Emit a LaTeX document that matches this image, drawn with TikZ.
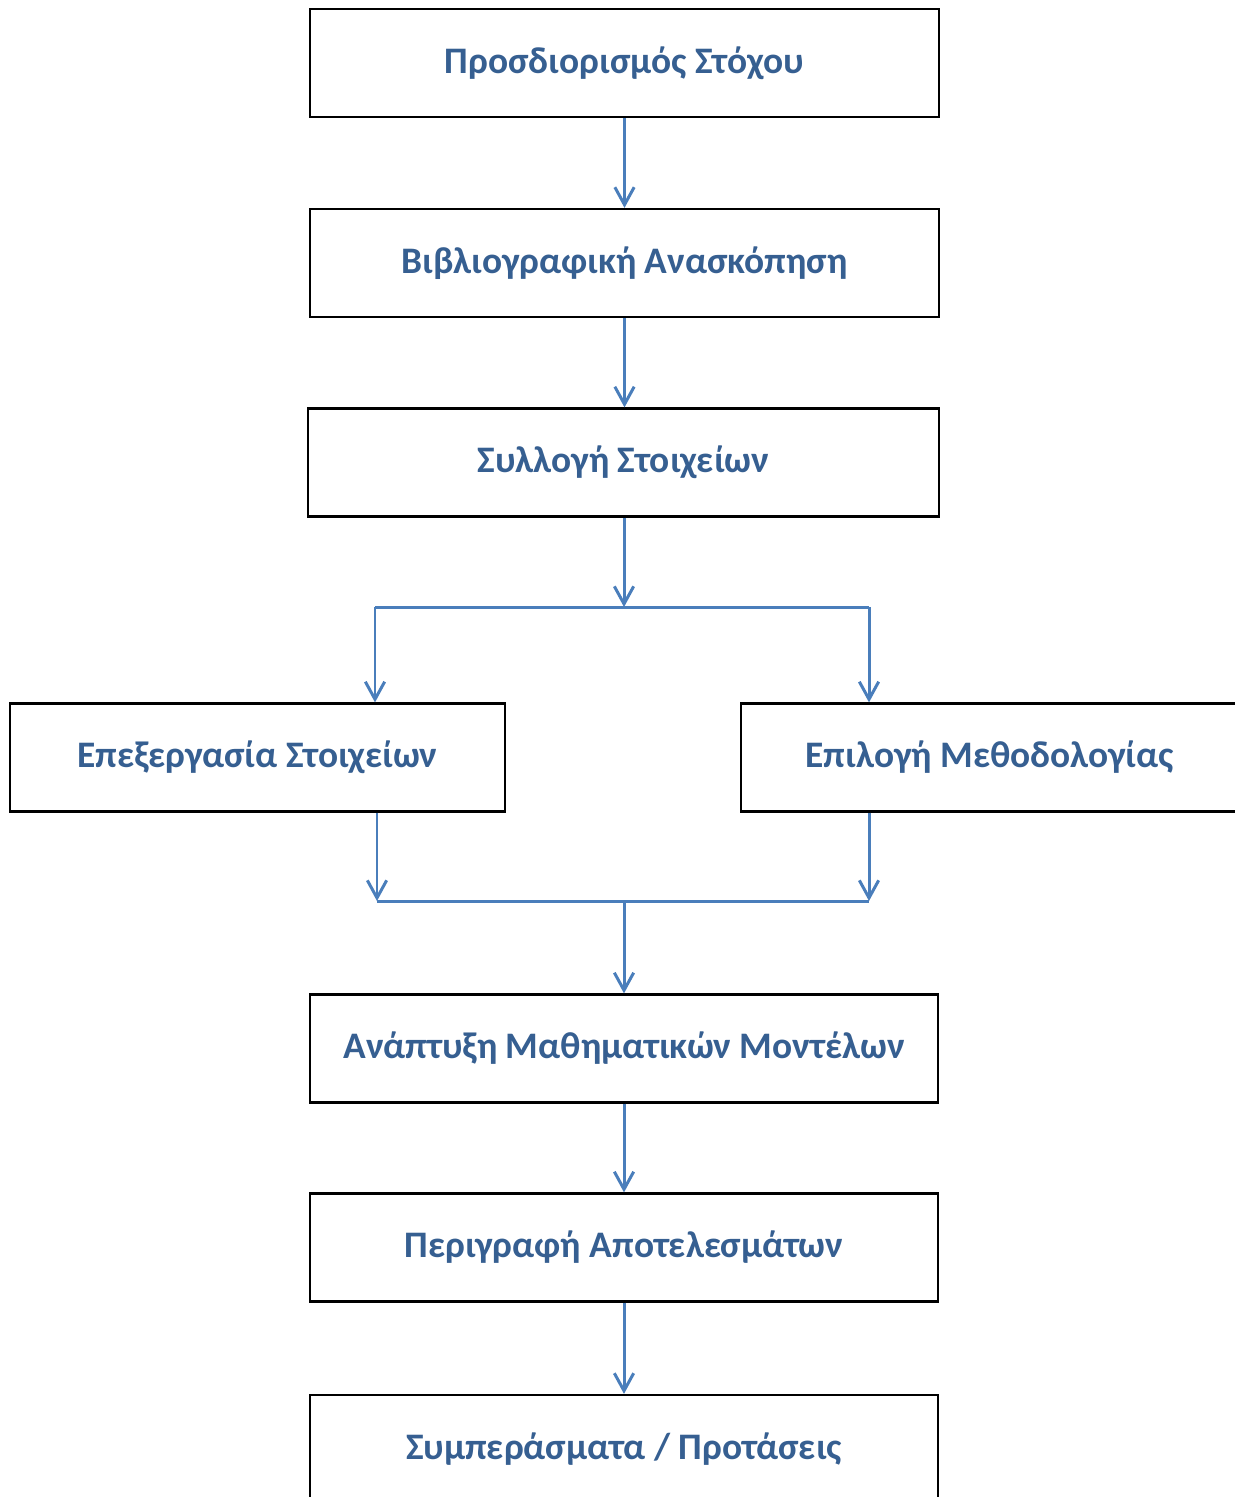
\documentclass[tikz,border=0pt]{standalone}
\usepackage{fontspec}
\setmainfont{Carlito}
\usepackage{tikz}
\usetikzlibrary{positioning}
\usetikzlibrary{arrows.meta}
\definecolor{linkblue}{HTML}{4A7EBB}
\definecolor{textblue}{HTML}{365F91}
\tikzset{
stepbox/.style={ % Frame of every step
draw=black, line width=1.3pt,
minimum height=2.16cm, inner sep=0pt,
font=\bfseries\fontsize{21.3}{25}\selectfont,
text=textblue},
every edge/.style={ % Blue arrows between the steps
draw=linkblue,
line width=1.7pt,
-{Straight Barb[length=10pt,width=11pt]}},
branch/.style={draw=linkblue, line width=1.7pt} % Plain split and merge lines
}

\begin{document}
\begin{tikzpicture}[x=0.02cm,y=-0.02cm]
\useasboundingbox (0,0) rectangle (1234,1497);
\node[stepbox, minimum width=12.58cm] (goal) at (624.5,63) {Προσδιορισμός Στόχου};
\node[stepbox, minimum width=12.58cm] (review) at (624.5,263) {Βιβλιογραφική Ανασκόπηση};
\node[stepbox, minimum width=12.62cm] (collect) at (623.5,462.5) {Συλλογή Στοιχείων};
\node[stepbox, minimum width=9.9cm] (process) at (257.5,757.5) {Επεξεργασία Στοιχείων};
\node[stepbox, minimum width=9.94cm] (method) at (989.5,757.5) {Επιλογή Μεθοδολογίας};
\node[stepbox, minimum width=12.56cm] (models) at (624,1048.5) {Ανάπτυξη Μαθηματικών Μοντέλων};
\node[stepbox, minimum width=12.56cm] (results) at (624,1247.5) {Περιγραφή Αποτελεσμάτων};
\node[stepbox, minimum width=12.56cm] (proposals) at (624,1449) {Συμπεράσματα / Προτάσεις};
\coordinate (split) at (624,607);
\coordinate (splitL) at (375,607);
\coordinate (splitR) at (869,607);
\coordinate (mergeL) at (377,901);
\coordinate (mergeR) at (869,901);
\coordinate (merge) at (624,901);
\draw (goal) edge[] (review) ;
\draw (review) edge[] (review |- collect.north) ;
\draw (collect.south -| split) edge[] (split) ;
\draw[branch] (splitL) -- (splitR) ;
\draw (splitL) edge[] (splitL |- process.north) ;
\draw (splitR) edge[] (splitR |- method.north) ;
\draw (mergeL |- process.south) edge[] (mergeL) ;
\draw (mergeR |- method.south) edge[] (mergeR) ;
\draw[branch] (mergeL) -- (mergeR) ;
\draw (merge) edge[] (models) ;
\draw (models) edge[] (results) ;
\draw (results) edge[] (proposals) ;
\end{tikzpicture}
\end{document}
